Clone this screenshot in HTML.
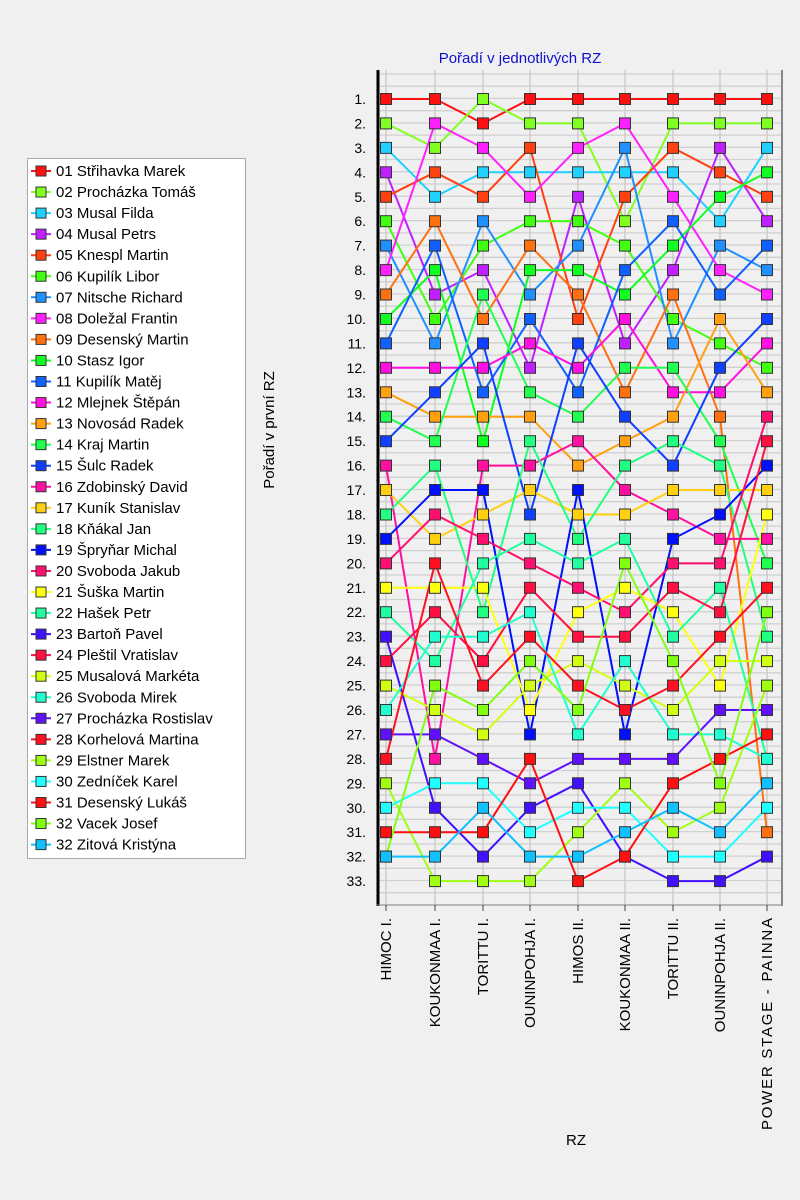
<!DOCTYPE html>
<html><head><meta charset="utf-8">
<style>
html,body{margin:0;padding:0;background:#f0f0f0;}
body{width:800px;height:1200px;overflow:hidden;position:relative;font-family:"Liberation Sans",sans-serif;}
</style></head><body>
<svg id="s" width="800" height="1200" style="position:absolute;left:0;top:0" xmlns="http://www.w3.org/2000/svg"></svg>
<script>
var names=["01 Střihavka Marek","02 Procházka Tomáš","03 Musal Filda","04 Musal Petrs","05 Knespl Martin","06 Kupilík Libor","07 Nitsche Richard","08 Doležal Frantin","09 Desenský Martin","10 Stasz Igor","11 Kupilík Matěj","12 Mlejnek Štěpán","13 Novosád Radek","14 Kraj Martin","15 Šulc Radek","16 Zdobinský David","17 Kuník Stanislav","18 Kňákal Jan","19 Špryňar Michal","20 Svoboda Jakub","21 Šuška Martin","22 Hašek Petr","23 Bartoň Pavel","24 Pleštil Vratislav","25 Musalová Markéta","26 Svoboda Mirek","27 Procházka Rostislav","28 Korhelová Martina","29 Elstner Marek","30 Zedníček Karel","31 Desenský Lukáš","32 Vacek Josef","32 Zitová Kristýna"];
var cols=["#ff1010","#80ff20","#20d0ff","#c020ff","#ff4010","#40ff10","#2090ff","#ff20ff","#ff7010","#10ff20","#1060ff","#ff10e0","#ffa010","#20ff50","#1040ff","#ff10a0","#ffd010","#20ff80","#0010ff","#ff1070","#ffff10","#20ffa0","#4010ff","#ff1040","#d0ff10","#20ffd0","#6010ff","#ff1020","#a0ff10","#20ffff","#ff1010","#80ff10","#10c0ff"];
var C=[];
var c1=[];for(var i=1;i<=33;i++)c1.push(i);C.push(c1);
C.push([1,8,2,5,3,9,11,10,4,6,7,12,15,13,14,18,19,20,17,28,21,24,26,22,32,25,27,16,30,23,31,33,29]);
C.push([2,1,8,3,5,7,6,4,14,9,15,12,11,13,10,16,19,17,20,22,21,18,26,24,28,32,25,27,30,33,31,23,29]);
C.push([1,2,5,3,8,6,9,10,7,11,12,4,14,13,18,16,17,15,22,20,24,26,28,32,25,21,19,31,27,23,30,33,29]);
C.push([1,2,8,3,4,6,7,10,9,5,15,12,11,14,16,13,19,17,18,22,20,21,24,25,28,32,26,27,23,30,29,33,31]);
C.push([1,8,7,3,5,2,6,11,10,12,4,14,9,15,13,18,16,17,22,32,21,20,24,26,25,28,19,27,29,30,33,23,31]);
C.push([1,2,5,3,8,11,10,4,9,6,7,14,12,13,18,15,17,16,19,20,24,21,22,32,28,25,26,27,31,33,29,30,23]);
C.push([1,2,4,5,10,3,7,8,11,13,6,15,12,9,14,18,17,19,16,20,22,24,28,25,21,27,26,31,32,29,33,30,23]);
C.push([1,2,3,10,5,4,11,7,8,15,12,6,13,20,24,19,17,21,16,14,28,32,18,25,29,27,31,26,33,30,9,23,22]);
var R=[];for(var s=1;s<=33;s++){R[s]=[];}
C.forEach(function(col,ci){col.forEach(function(s,ri){R[s][ci]=ri+1;});});
R[33][0]=32;R[31][5]=32;R[22][8]=28;
var X=[386,435,483,530,578,625,673,720,767];
function Y(r){return 99+(r-1)*24.44;}
var h='';
for(var y=74;y<=905;y+=12.22){h+='<line x1="379" x2="782" y1="'+y.toFixed(1)+'" y2="'+y.toFixed(1)+'" stroke="#d0d0d0" stroke-width="1.3"/>';}
X.forEach(function(x){h+='<line x1="'+x+'" x2="'+x+'" y1="70" y2="905" stroke="#c8c8c8" stroke-width="1.3"/>';});
for(var y=72;y<=905;y+=6.1){h+='<line x1="376" x2="379" y1="'+y.toFixed(1)+'" y2="'+y.toFixed(1)+'" stroke="#888" stroke-width="0.6"/>';}
h+='<line x1="378" x2="378" y1="70" y2="906" stroke="#000" stroke-width="3"/>';
h+='<line x1="782" x2="782" y1="70" y2="906" stroke="#888" stroke-width="2"/>';
h+='<line x1="376" x2="782" y1="905" y2="905" stroke="#888" stroke-width="1"/>';
X.forEach(function(x){h+='<line x1="'+x+'" x2="'+x+'" y1="905" y2="911" stroke="#444" stroke-width="1"/>';});
for(var r=1;r<=33;r++){h+='<text x="366" y="'+(Y(r)+5)+'" font-size="14" text-anchor="end" fill="#000">'+r+'.</text>';}
h+='<text x="520" y="63" font-size="15" fill="#1010d0" text-anchor="middle">Pořadí v jednotlivých RZ</text>';
h+='<text transform="translate(274,430) rotate(-90)" font-size="15" text-anchor="middle" fill="#000">Pořadí v první RZ</text>';
var cats=["HIMOC I.","KOUKONMAA I.","TORITTU I.","OUNINPOHJA I.","HIMOS II.","KOUKONMAA II.","TORITTU II.","OUNINPOHJA II.","POWER STAGE - PAINNA"];
cats.forEach(function(c,i){var tl=(i==8)?' textLength="212"':'';h+='<text transform="translate('+(X[i]+5)+',918) rotate(-90)" font-size="15" text-anchor="end" fill="#000"'+tl+'>'+c+'</text>';});
h+='<text x="576" y="1145" font-size="15" text-anchor="middle" fill="#000">RZ</text>';
for(var s=1;s<=33;s++){
 var p=R[s].map(function(r,i){return X[i]+','+Y(r).toFixed(1);}).join(' ');
 h+='<polyline points="'+p+'" fill="none" stroke="'+cols[s-1]+'" stroke-width="2"/>';
}
for(var s=1;s<=33;s++){
 R[s].forEach(function(r,i){h+='<rect x="'+(X[i]-5.5)+'" y="'+(Y(r)-5.5).toFixed(1)+'" width="11" height="11" fill="'+cols[s-1]+'" stroke="#333" stroke-width="1"/>';});
}
h+='<rect x="27.5" y="158.5" width="218" height="700" fill="#fff" stroke="#aaa"/>';
names.forEach(function(n,i){var y=171+i*21.05;
 h+='<line x1="31" x2="51" y1="'+y+'" y2="'+y+'" stroke="'+cols[i]+'" stroke-width="2"/>';
 h+='<rect x="36" y="'+(y-5)+'" width="10" height="10" fill="'+cols[i]+'" stroke="#333"/>';
 h+='<text x="56" y="'+(y+5)+'" font-size="15" fill="#000">'+n+'</text>';});
document.getElementById('s').innerHTML=h;
</script>
</body></html>
